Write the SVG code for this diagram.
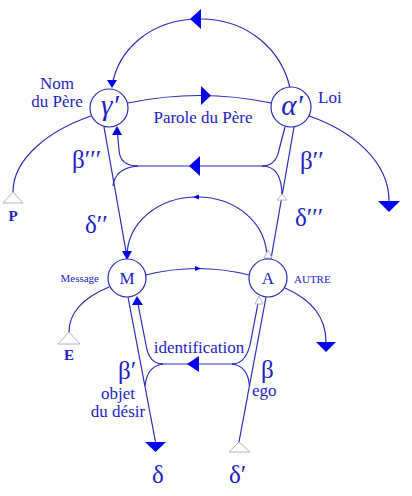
<svg xmlns="http://www.w3.org/2000/svg" width="412" height="496" viewBox="0 0 412 496">
<style>
.ln{fill:none;stroke:#2a2ab4;stroke-width:1.2}
.ar{fill:#0000f0;stroke:none}
.st{fill:#fff;stroke:#b4b4c8;stroke-width:1}
.nd{fill:#fff;stroke:#2a2ab4;stroke-width:1.2}
.t{font-family:"Liberation Serif","DejaVu Serif",serif;fill:#1e1ec0}
.lb{font-size:17px}
.sm{font-size:11px}
.gk{font-size:25px}
.gi{font-size:29px;font-style:italic}
.bd{font-size:15px;font-weight:bold}
</style>
<rect width="412" height="496" fill="#fff"/>
<g id="connectors">
<path class="ln" d="M290,88 C282,52 250,19 200,19 C150,19 118,50 112,86"/>
<polygon class="ar" points="190,19 201,9 201,29"/>
<polygon class="ar" points="112,88 107,80 117,80"/>
<path class="ln" d="M128,103 Q200,88 271,103"/>
<polygon class="ar" points="211,95.5 201,86 201,105"/>
<path class="ln" d="M91,116 C50,130 13,158 13,192"/>
<polygon class="st" points="13,192 3,203 23,203"/>
<path class="ln" d="M309,116 C350,130 389,160 389,201"/>
<polygon class="ar" points="378,201 400,201 389,212"/>
<path class="ln" d="M104,127 L127,257"/>
<path class="ln" d="M294,127 L271,259"/>
<path class="ln" d="M133,166 L266,166"/>
<path class="ln" d="M285,127 L279,150 Q276,166 262,166"/>
<path class="ln" d="M262,166 C276,166 282,176 282,196"/>
<path class="ln" d="M138,166 Q120,166 119,150 L117,128"/>
<path class="ln" d="M138,166 Q115,168 113,186"/>
<polygon class="ar" points="189,166 200,156 200,176"/>
<polygon class="ar" points="117,126 112,135 122,135"/>
<polygon class="st" points="282,194 277,200 287,200"/>
<path class="ln" d="M267,259 C267,222 235,197 197,197 C159,197 127,222 127,257"/>
<polygon class="ar" points="193,197 199,194.5 199,199.5"/>
<polygon class="st" points="268,250 264,258 272,258"/>
<polygon class="ar" points="127,260 122,251 132,251"/>
<path class="ln" d="M146,275 Q197,262 249,275"/>
<polygon class="ar" points="201,268.5 195,266 195,271"/>
<path class="ln" d="M109,287 C85,297 69,312 69,332"/>
<polygon class="st" points="69,332 58,344 80,344"/>
<path class="ln" d="M285,288 C308,298 326,315 326,342"/>
<polygon class="ar" points="316,342 336,342 326,352"/>
<path class="ln" d="M128,297 L155.5,442"/>
<polygon class="ar" points="145,442 166,442 155.5,452"/>
<path class="ln" d="M266,297 L239,442"/>
<polygon class="st" points="239,442 229,452 250,452"/>
<path class="ln" d="M160,364 L236,364"/>
<path class="ln" d="M137,299 L146,345 Q149,364 163,364"/>
<path class="ln" d="M163,364 Q147,366 145,386"/>
<path class="ln" d="M259,298 L251,340 Q247,364 232,364"/>
<path class="ln" d="M232,364 Q248,366 249.5,386"/>
<polygon class="ar" points="187,364 199,356 199,372"/>
<polygon class="ar" points="137,296 132,305 143,305"/>
<polygon class="st" points="259,296 255,304 263,304"/>
</g>
<g id="gamma">
<circle class="nd" cx="109" cy="108" r="19"/>
<text class="t gi" x="110" y="115" text-anchor="middle">γ′</text>
</g>
<g id="alpha">
<circle class="nd" cx="291" cy="107" r="20"/>
<text class="t gi" x="292" y="115" text-anchor="middle">α′</text>
</g>
<g id="M">
<circle class="nd" cx="127" cy="278" r="19"/>
<text class="t lb" x="127" y="284" text-anchor="middle">M</text>
</g>
<g id="A">
<circle class="nd" cx="268" cy="278" r="19"/>
<text class="t lb" x="268" y="284" text-anchor="middle">A</text>
</g>
<g id="labels">
<text class="t lb" x="57" y="89" text-anchor="middle">Nom</text>
<text class="t lb" x="57" y="107" text-anchor="middle">du Père</text>
<text class="t lb" x="318" y="103">Loi</text>
<text class="t lb" x="203" y="123" text-anchor="middle">Parole du Père</text>
<text class="t sm" x="99" y="282" text-anchor="end">Message</text>
<text class="t sm" x="294" y="283">AUTRE</text>
<text class="t lb" x="199" y="353" text-anchor="middle">identification</text>
<text class="t lb" x="118" y="399" text-anchor="middle">objet</text>
<text class="t lb" x="118" y="417" text-anchor="middle">du désir</text>
<text class="t lb" x="252" y="396">ego</text>
<text class="t bd" x="13" y="221" text-anchor="middle">P</text>
<text class="t bd" x="69" y="360" text-anchor="middle">E</text>
<text class="t gk" x="72" y="168">β′′′</text>
<text class="t gk" x="300" y="169">β′′</text>
<text class="t gk" x="85" y="233">δ′′</text>
<text class="t gk" x="295" y="226">δ′′′</text>
<text class="t gk" x="118" y="379">β′</text>
<text class="t gk" x="261" y="378">β</text>
<text class="t gk" x="158" y="483" text-anchor="middle">δ</text>
<text class="t gk" x="229" y="483">δ′</text>
</g>
</svg>
